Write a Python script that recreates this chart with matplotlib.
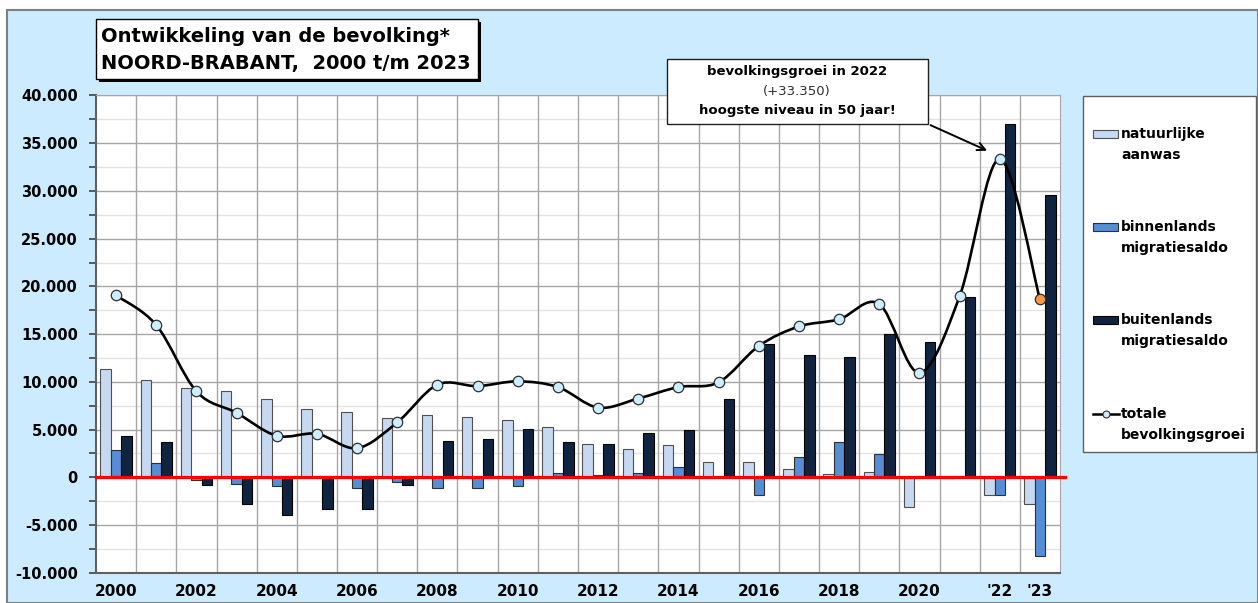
import numpy as np
import matplotlib
matplotlib.use('Agg')
import matplotlib.pyplot as plt
from matplotlib.patches import Rectangle, PathPatch
from matplotlib.path import Path
from matplotlib.lines import Line2D
from matplotlib.ticker import MultipleLocator, FuncFormatter

# data
jaren = ['2000', '', '2002', '', '2004', '', '2006', '', '2008', '', '2010', '',
         '2012', '', '2014', '', '2016', '', '2018', '', '2020', '', "'22", "'23"]
natuurlijk = [11300, 10150, 9350, 9000, 8200, 7150, 6850, 6200, 6550, 6350, 6000, 5250,
              3500, 2950, 3400, 1650, 1650, 850, 350, 550, -3150, -100, -1850, -2800]
binnenlands = [2850, 1500, -250, -700, -950, 150, -1150, -450, -1150, -1150, -950, 450,
               250, 450, 1050, 0, -1900, 2150, 3650, 2450, 0, 0, -1850, -8300]
buitenlands = [4350, 3650, -850, -2800, -3950, -3350, -3300, -850, 3750, 4050, 5050, 3650,
               3450, 4650, 4950, 8200, 14000, 12850, 12600, 15000, 14150, 18850, 37050, 29550]
totaal = [19050, 15950, 9000, 6750, 4350, 4550, 3050, 5750, 9700, 9550, 10050, 9450,
          7300, 8250, 9450, 9950, 13750, 15800, 16550, 18150, 10950, 18950, 33350, 18650]

c_licht = '#C6D9F1'
c_midden = '#558ED5'
c_donker = '#10243F'
c_bg = '#CCEBFF'

W, H = 1258, 603
fig = plt.figure(figsize=(W / 100, H / 100), dpi=100)
fig.patch.set_facecolor('white')


def px(x, y):
    # pixel (from top-left) -> figure fraction
    return x / W, 1 - y / H


# light blue background frame
fig.patches.append(Rectangle(px(7, H), (W - 7) / W, (H - 10) / H, transform=fig.transFigure,
                             facecolor=c_bg, edgecolor='#7F7F7F', lw=1.5, zorder=-10))

ax = fig.add_axes([96 / W, 1 - 572.7 / H, (1060 - 96) / W, (572.7 - 95.5) / H])
ax.set_facecolor('white')

x = np.arange(len(jaren))
bw = 0.26
ax.bar(x - bw, natuurlijk, bw, color=c_licht, edgecolor='#505050', lw=0.8, zorder=3)
ax.bar(x, binnenlands, bw, color=c_midden, edgecolor='#303030', lw=0.8, zorder=3)
ax.bar(x + bw, buitenlands, bw, color=c_donker, edgecolor='#000000', lw=0.8, zorder=3)

# zero line
ax.plot([-0.5, 23.62], [0, 0], color='#FF0000', lw=2.3, zorder=4, clip_on=False)

# smoothed line (Catmull-Rom as Bezier segments)
n = len(totaal)
verts = [(x[0], totaal[0])]
codes = [Path.MOVETO]
for i in range(n - 1):
    a = i - 1 if i > 0 else i
    d = i + 2 if i + 2 < n else i + 1
    c1 = (x[i] + (x[i + 1] - x[a]) / 6, totaal[i] + (totaal[i + 1] - totaal[a]) / 6)
    c2 = (x[i + 1] - (x[d] - x[i]) / 6, totaal[i + 1] - (totaal[d] - totaal[i]) / 6)
    verts += [c1, c2, (x[i + 1], totaal[i + 1])]
    codes += [Path.CURVE4] * 3
ax.add_patch(PathPatch(Path(verts, codes), facecolor='none', edgecolor='black', lw=1.9, zorder=5))
ax.plot(x[:-1], totaal[:-1], ls='none', marker='o', ms=7.5, mfc='#CCEEFF', mec='#303030',
        mew=0.9, zorder=6)
ax.plot(x[-1:], totaal[-1:], ls='none', marker='o', ms=7.5, mfc='#F79646', mec='#303030',
        mew=0.9, zorder=6)

ax.set_xlim(-0.5, 23.5)
ax.set_ylim(-10000, 40000)
ax.set_xticks(x)
ax.set_xticklabels(jaren, fontsize=11, fontweight='bold')
ax.tick_params(axis='x', length=0, pad=8)
ax.yaxis.set_major_locator(MultipleLocator(5000))
ax.yaxis.set_minor_locator(MultipleLocator(2500))
ax.yaxis.set_major_formatter(FuncFormatter(lambda v, p: f'{int(v):,}'.replace(',', '.')))
ax.tick_params(axis='y', which='both', length=5, width=1.2, color='#404040', pad=8,
               labelsize=10.5)
for t in ax.get_yticklabels():
    t.set_fontweight('bold')

# grid
for v in np.arange(0.5, 23.5, 1):
    ax.axvline(v, color='#A6A6A6', lw=1, zorder=1)
ax.grid(axis='y', which='major', color='#A6A6A6', lw=1, zorder=1)
ax.grid(axis='y', which='minor', color='#E3E3E3', lw=1, zorder=1)
ax.set_axisbelow(True)
for s in ['top', 'right']:
    ax.spines[s].set_color('#A6A6A6')
for s in ['left', 'bottom']:
    ax.spines[s].set_color('#606060')
    ax.spines[s].set_linewidth(1.5)

# title box with shadow
fig.patches.append(Rectangle(px(99, 82), (478 - 96) / W, (79 - 19) / H, transform=fig.transFigure,
                             facecolor='black', edgecolor='none', zorder=7))
fig.patches.append(Rectangle(px(96, 79), (478 - 96) / W, (79 - 19) / H, transform=fig.transFigure,
                             facecolor='white', edgecolor='black', lw=1, zorder=8))
fig.text(*px(101, 36), 'Ontwikkeling van de bevolking*', fontsize=14, fontweight='bold',
         va='center', ha='left', zorder=9)
fig.text(*px(101, 63), 'NOORD-BRABANT,  2000 t/m 2023', fontsize=14, fontweight='bold',
         va='center', ha='left', zorder=9)

# annotation box
fig.patches.append(Rectangle(px(667, 124), (928 - 667) / W, (124 - 59) / H, transform=fig.transFigure,
                             facecolor='white', edgecolor='#202020', lw=1, zorder=7))
fig.text(*px(797, 72), 'bevolkingsgroei in 2022', fontsize=9.5, fontweight='bold',
         ha='center', va='center', zorder=9)
fig.text(*px(797, 91), '(+33.350)', fontsize=9.5, ha='center', va='center', color='#303030', zorder=9)
fig.text(*px(797, 110), 'hoogste niveau in 50 jaar!', fontsize=9.5, fontweight='bold',
         ha='center', va='center', zorder=9)
ax.annotate('', xy=(21.75, 34100), xycoords='data', xytext=(928, H - 124),
            textcoords='figure pixels',
            arrowprops=dict(arrowstyle='->', color='black', lw=1.4, mutation_scale=14))

# legend box
fig.patches.append(Rectangle(px(1083, 452), (1256 - 1083) / W, (452 - 96) / H, transform=fig.transFigure,
                             facecolor='white', edgecolor='#606060', lw=1, zorder=7))
items = [(c_licht, '#505050', 'natuurlijke\naanwas', 134),
         (c_midden, '#303030', 'binnenlands\nmigratiesaldo', 227),
         (c_donker, '#000000', 'buitenlands\nmigratiesaldo', 320)]
for fc, ec, lab, yy in items:
    fig.patches.append(Rectangle(px(1093, yy + 4), 25 / W, 8 / H, transform=fig.transFigure,
                                 facecolor=fc, edgecolor=ec, lw=0.8, zorder=8))
    fig.text(*px(1121, yy - 7), lab, fontsize=10, fontweight='bold', ha='left', va='top',
             linespacing=1.65, zorder=9)
fig.lines.append(Line2D([1093 / W, 1119 / W], [1 - 414 / H, 1 - 414 / H], transform=fig.transFigure,
                        color='black', lw=1.8, zorder=8))
fig.lines.append(Line2D([1106 / W], [1 - 414 / H], transform=fig.transFigure, marker='o', ms=5,
                        mfc='#CCEEFF', mec='#303030', mew=0.8, zorder=9))
fig.text(*px(1121, 407), 'totale\nbevolkingsgroei', fontsize=10, fontweight='bold', ha='left',
         va='top', linespacing=1.65, zorder=9)

plt.savefig('out.png', dpi=100, facecolor=fig.get_facecolor())
